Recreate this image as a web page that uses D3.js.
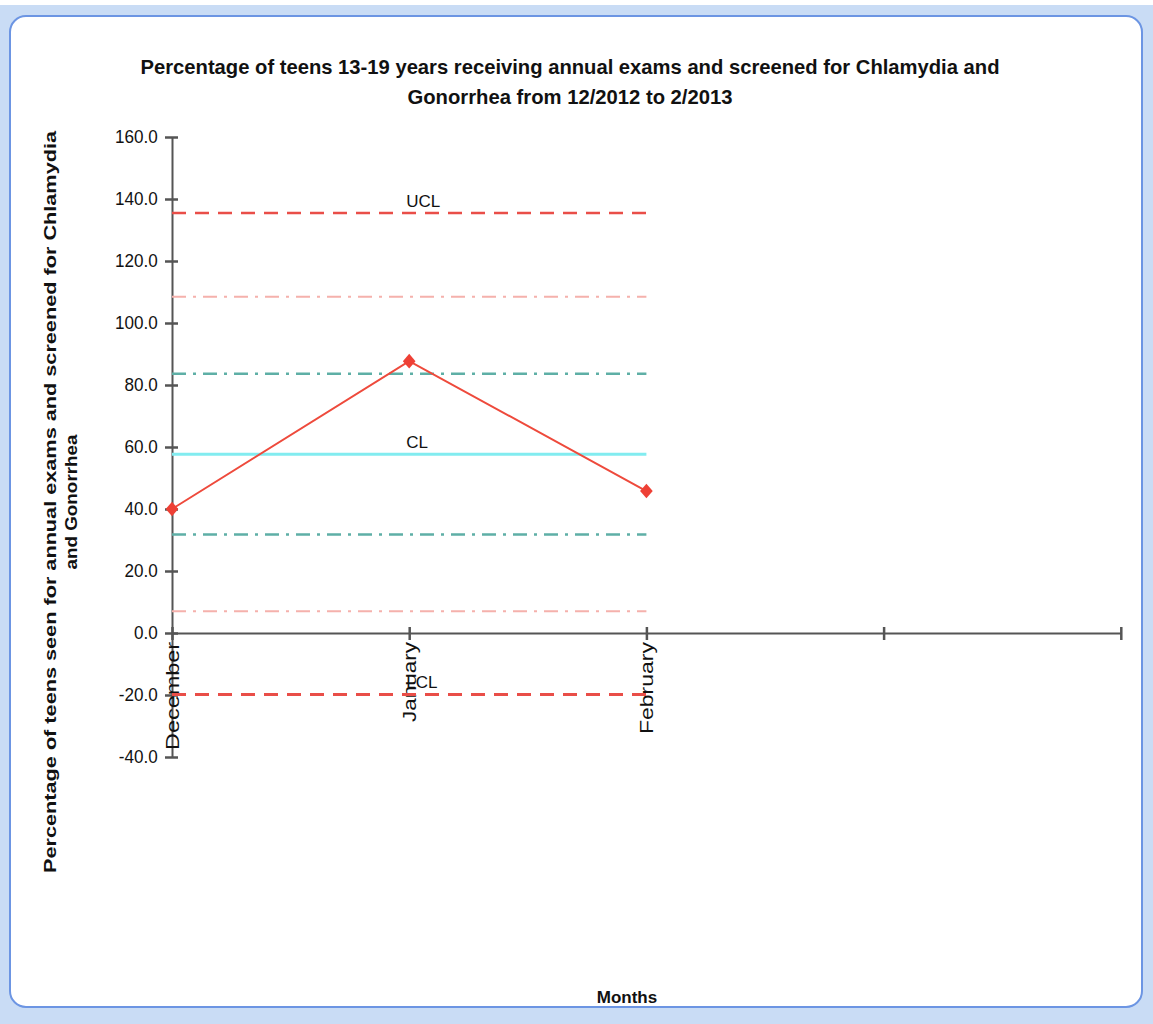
<!DOCTYPE html>
<html>
<head>
<meta charset="utf-8">
<script src="https://cdn.jsdelivr.net/npm/d3@7"></script>
<style>
  html, body { margin: 0; padding: 0; background: #fff; }
  svg { display: block; font-family: "Liberation Sans", Arial, sans-serif; }
</style>
</head>
<body>
<svg id="chart"></svg>
<script>
// month slots on the x axis (last two are empty)
const months = ["December", "January", "February", "", ""];
// percentage per month
const percentValues = [40.0, 87.7, 45.8];
const yTicks = [-40, -20, 0, 20, 40, 60, 80, 100, 120, 140, 160];

// control limits
const limitNames = ["UCL", "+2 sigma", "+1 sigma", "CL", "-1 sigma", "-2 sigma", "LCL"];
const limitValues = [135.5, 108.5, 83.6, 57.7, 31.8, 7.0, -19.8];
const limitLabels = ["UCL", "", "", "CL", "", "", "LCL"];

const titleLines = [
  "Percentage of teens 13-19 years receiving annual exams and screened for Chlamydia and",
  "Gonorrhea from 12/2012 to 2/2013"
];
const yTitleLines = [
  "Percentage of teens seen for annual exams and screened for Chlamydia",
  "and Gonorrhea"
];
const xTitle = "Months";

class ControlChart {
  constructor(_config) {
    this.config = {
      parentElement: _config.parentElement,
      containerWidth: _config.containerWidth || 1153,
      containerHeight: _config.containerHeight || 1024,
      margin: { top: 137, bottom: 267, right: 32, left: 172 }
    };
    this.initVis();
  }

  initVis() {
    let vis = this;
    const W = vis.config.containerWidth, H = vis.config.containerHeight;
    vis.width = W - vis.config.margin.left - vis.config.margin.right;
    vis.height = H - vis.config.margin.top - vis.config.margin.bottom;

    vis.svg = d3.select(vis.config.parentElement)
      .attr('width', W)
      .attr('height', H);

    // window frame
    vis.svg.append('rect')
      .attr('x', 0).attr('y', 0).attr('width', W).attr('height', H)
      .attr('fill', '#c9dcf5');
    vis.svg.append('rect')
      .attr('x', 0).attr('y', 0).attr('width', W).attr('height', 5)
      .attr('fill', '#ffffff');
    vis.svg.append('rect')
      .attr('x', 10).attr('y', 16).attr('width', W - 21).attr('height', H - 33)
      .attr('rx', 16).attr('ry', 16)
      .attr('fill', '#ffffff')
      .attr('stroke', '#6c95e3').attr('stroke-width', 2);

    vis.chart = vis.svg.append('g')
      .attr('transform', `translate(${vis.config.margin.left},${vis.config.margin.top})`);

    vis.xScale = d3.scaleLinear()
      .domain([0, months.length - 1])
      .range([0, vis.width - 0.2]);

    vis.yScale = d3.scaleLinear()
      .domain([-40, 160])
      .range([vis.height, 0]);

    // y axis (hyphen minus like the original)
    const fmt = d3.format('.1f');
    const yAxis = d3.axisLeft(vis.yScale)
      .tickValues(yTicks)
      .tickSizeInner(7)
      .tickSizeOuter(0)
      .tickPadding(8)
      .tickFormat(d => fmt(d).replace('\u2212', '-'));
    const yg = vis.chart.append('g').call(yAxis);
    yg.select('.domain').attr('stroke', '#555').attr('stroke-width', 2);
    yg.selectAll('.tick line').attr('stroke', '#555').attr('stroke-width', 2.5).attr('x2', 6).attr('x1', -7);
    yg.selectAll('.tick text').attr('font-size', 18).attr('fill', '#111')
      .attr('font-family', '"Liberation Sans", Arial, sans-serif')
      .attr('transform', 'scale(0.95,1)');

    // x axis at zero
    const xLabelLen = { "December": 108, "January": 80, "February": 92 };
    const xAxis = d3.axisBottom(vis.xScale)
      .tickValues(d3.range(months.length))
      .tickSizeInner(7)
      .tickSizeOuter(0)
      .tickFormat(i => months[i]);
    const xg = vis.chart.append('g')
      .attr('transform', `translate(0,${vis.yScale(0)})`)
      .call(xAxis);
    xg.select('.domain').attr('stroke', '#555').attr('stroke-width', 2);
    xg.selectAll('.tick line').attr('stroke', '#555').attr('stroke-width', 2.5).attr('y1', -6).attr('y2', 7);
    xg.selectAll('.tick text')
      .attr('font-size', 18).attr('fill', '#111')
      .attr('font-family', '"Liberation Sans", Arial, sans-serif')
      .attr('text-anchor', 'end')
      .attr('dy', '0.35em')
      .attr('transform', 'translate(0,9) rotate(-90)')
      .attr('x', 0).attr('y', 0)
      .each(function(i) {
        if (xLabelLen[months[i]]) {
          d3.select(this).attr('textLength', xLabelLen[months[i]]).attr('lengthAdjust', 'spacingAndGlyphs');
        }
      });

    // control limit lines
    const lineStyle = {
      "UCL": { stroke: '#e94e48', width: 2.5, dash: '14,9' },
      "+2 sigma": { stroke: '#f5b1ac', width: 2, dash: '14,7,3,7' },
      "+1 sigma": { stroke: '#5eafa6', width: 2.5, dash: '14,7,3,7' },
      "CL": { stroke: '#82ecf0', width: 3, dash: null },
      "-1 sigma": { stroke: '#5eafa6', width: 2.5, dash: '14,7,3,7' },
      "-2 sigma": { stroke: '#f5b1ac', width: 2, dash: '14,7,3,7' },
      "LCL": { stroke: '#e94e48', width: 3, dash: '14,9' }
    };
    const limits = limitNames.map((n, i) => ({ name: n, value: limitValues[i], label: limitLabels[i] }));
    const nPts = percentValues.length - 1;

    vis.chart.selectAll('.limit')
      .data(limits)
      .join('line')
      .attr('class', 'limit')
      .attr('x1', vis.xScale(0))
      .attr('x2', vis.xScale(nPts))
      .attr('y1', d => vis.yScale(d.value))
      .attr('y2', d => vis.yScale(d.value))
      .attr('stroke', d => lineStyle[d.name].stroke)
      .attr('stroke-width', d => lineStyle[d.name].width)
      .attr('stroke-dasharray', d => lineStyle[d.name].dash);

    vis.chart.selectAll('.limit-label')
      .data(limits.filter(d => d.label))
      .join('text')
      .attr('class', 'limit-label')
      .attr('x', vis.xScale(1) - 3)
      .attr('y', d => vis.yScale(d.value) - 6)
      .attr('font-size', 17)
      .attr('fill', '#111')
      .text(d => d.label);

    // data line
    const line = d3.line()
      .x((d, i) => vis.xScale(i))
      .y(d => vis.yScale(d));
    vis.chart.append('path')
      .datum(percentValues)
      .attr('fill', 'none')
      .attr('stroke', '#ee4a3c')
      .attr('stroke-width', 2)
      .attr('d', line);

    vis.chart.selectAll('.pt')
      .data(percentValues)
      .join('path')
      .attr('class', 'pt')
      .attr('d', d3.symbol(d3.symbolSquare, 80))
      .attr('transform', (d, i) => `translate(${vis.xScale(i)},${vis.yScale(d)}) scale(1,1.15) rotate(45)`)
      .attr('fill', '#ee4035');

    // titles
    vis.svg.append('g').selectAll('text')
      .data(titleLines)
      .join('text')
      .attr('x', 570)
      .attr('y', (d, i) => 74 + i * 30)
      .attr('text-anchor', 'middle')
      .attr('font-size', 21)
      .attr('font-weight', 'bold')
      .attr('fill', '#111')
      .attr('textLength', (d, i) => i === 0 ? 859 : 325)
      .attr('lengthAdjust', 'spacingAndGlyphs')
      .text(d => d);

    vis.svg.append('g')
      .attr('transform', 'translate(56,502) rotate(-90)')
      .selectAll('text')
      .data(yTitleLines)
      .join('text')
      .attr('x', 0)
      .attr('y', (d, i) => i * 21)
      .attr('text-anchor', 'middle')
      .attr('font-size', 16)
      .attr('font-weight', 'bold')
      .attr('fill', '#111')
      .attr('textLength', (d, i) => i === 0 ? 742 : 135)
      .attr('lengthAdjust', 'spacingAndGlyphs')
      .text(d => d);

    vis.svg.append('text')
      .attr('x', 627)
      .attr('y', 1003)
      .attr('text-anchor', 'middle')
      .attr('font-size', 17)
      .attr('font-weight', 'bold')
      .attr('fill', '#111')
      .text(xTitle);
  }
}

new ControlChart({ parentElement: '#chart', containerWidth: 1153, containerHeight: 1024 });
</script>
</body>
</html>
